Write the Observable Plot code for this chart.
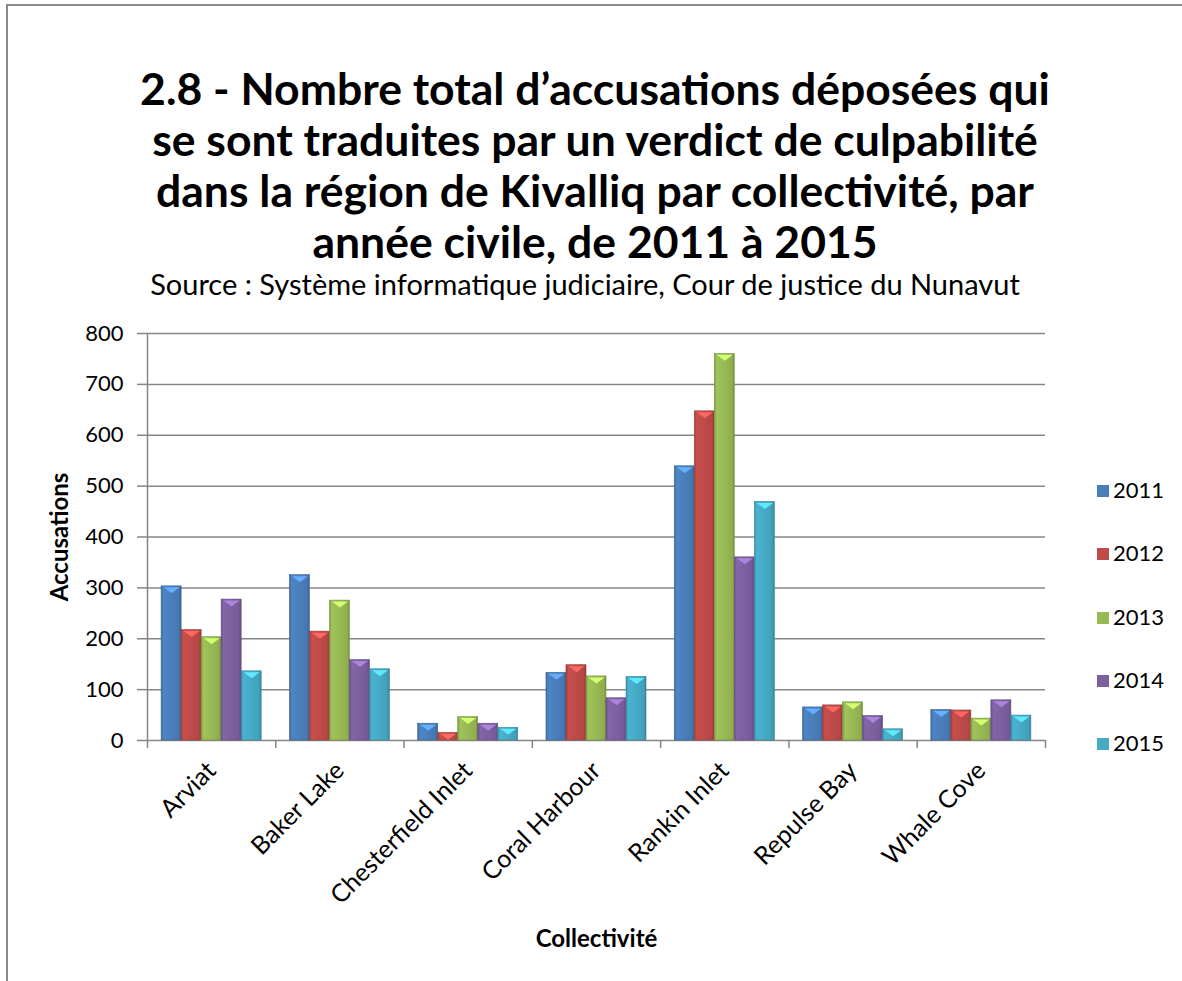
<!DOCTYPE html>
<html>
<head>
<meta charset="utf-8">
<script src="https://cdn.jsdelivr.net/npm/d3@7"></script>
<script src="https://cdn.jsdelivr.net/npm/@observablehq/plot@0.6"></script>
<style>
  html, body { margin: 0; padding: 0; background: #fff; }
  #wrap { position: relative; width: 1182px; height: 981px; overflow: hidden; background: #fff; font-family: Lato, "Open Sans", sans-serif; }
  #frame { position: absolute; left: 6px; top: 4px; width: 1300px; height: 1300px; border-left: 2px solid #8a8a8a; border-top: 2px solid #8a8a8a; }
  #title { position: absolute; left: 0; top: 62px; width: 1190px; text-align: center; font-weight: bold; font-size: 44.5px; line-height: 51px; color: #000; }
  #subtitle { position: absolute; left: 0; top: 266px; width: 1170px; text-align: center; font-size: 29px; color: #000; }
  #chart { position: absolute; left: 0; top: 300px; }
  #legend { position: absolute; left: 1097px; top: 476px; font-size: 22px; color: #000; }
  .lg-row { height: 63.3px; display: flex; align-items: flex-start; }
  .lg-sw { width: 12px; height: 12px; margin-top: 9px; margin-right: 4px; }
</style>
</head>
<body>
<div id="wrap">
  <div id="frame"></div>
  <div id="title"></div>
  <div id="subtitle"></div>
  <div id="chart"></div>
  <div id="legend"></div>
</div>
<script>
// ---- Data ----
const titleLines = [
  "2.8 - Nombre total d’accusations déposées qui",
  "se sont traduites par un verdict de culpabilité",
  "dans la région de Kivalliq par collectivité, par",
  "année civile, de 2011 à 2015"
];
const subtitleText = "Source : Système informatique judiciaire, Cour de justice du Nunavut";
const yLabel = "Accusations";
const xLabel = "Collectivité";

const communities = ["Arviat", "Baker Lake", "Chesterfield Inlet", "Coral Harbour", "Rankin Inlet", "Repulse Bay", "Whale Cove"];
const years = ["2011", "2012", "2013", "2014", "2015"];
const v2011 = [303, 325, 33, 133, 539, 65, 60];
const v2012 = [217, 214, 15, 148, 647, 69, 59];
const v2013 = [203, 275, 46, 126, 760, 75, 43];
const v2014 = [277, 158, 33, 83, 360, 48, 79];
const v2015 = [136, 140, 25, 125, 469, 22, 49];
const yTicks = [0, 100, 200, 300, 400, 500, 600, 700, 800];
const colors = ["#4A7EBB", "#BE4B48", "#98B954", "#7D60A0", "#46AAC5"];

const seriesValues = [v2011, v2012, v2013, v2014, v2015];

// ---- Title / subtitle ----
document.getElementById("title").innerHTML = titleLines.map(l => `<div>${l}</div>`).join("");
document.getElementById("subtitle").textContent = subtitleText;

// ---- Table ----
const groupPad = 0.11;
const barW = (1 - 2 * groupPad) / years.length;
const rows = [];
communities.forEach((c, ci) => {
  years.forEach((yr, yi) => {
    const x1 = ci + groupPad + yi * barW;
    rows.push({community: c, year: yr, yi, value: seriesValues[yi][ci], x1, x2: x1 + barW});
  });
});

const boundaries = d3.range(communities.length + 1);
const centers = communities.map((c, i) => i + 0.5);

// flat downward "V" bevel symbol for bar tops
const bevelSymbol = {
  draw(context, size) {
    const r = Math.sqrt(size / Math.PI);
    context.moveTo(-r, 0);
    context.lineTo(r, 0);
    context.lineTo(0, 0.75 * r);
    context.closePath();
  }
};

const barMarks = [];
years.forEach((yr, yi) => {
  const data = rows.filter(r => r.year === yr);
  barMarks.push(Plot.rect(data, {
    x1: "x1", x2: "x2", y1: () => 0, y2: "value",
    fill: `url(#grad${yr})`, stroke: d3.color(colors[yi]).darker(0.6).formatHex(), strokeWidth: 0.6
  }));
  barMarks.push(Plot.dot(data, {
    x: d => (d.x1 + d.x2) / 2, y: "value", symbol: bevelSymbol, r: 8, dy: 1,
    fill: d3.color(colors[yi]).brighter(0.9).formatHex(), stroke: "none"
  }));
});

const chart = Plot.plot({
  width: 1182,
  height: 670,
  marginLeft: 147,
  marginRight: 137,
  marginTop: 33,
  marginBottom: 230,
  x: {domain: [0, communities.length], axis: null},
  y: {domain: [0, 800], axis: null},
  style: {fontFamily: "Lato, 'Open Sans', sans-serif", fontSize: "20px", color: "#000", background: "transparent", overflow: "visible"},
  marks: [
    Plot.ruleY(yTicks, {stroke: "#868686", strokeWidth: 1.5}),
    Plot.ruleX([0], {stroke: "#868686", strokeWidth: 1.5}),
    Plot.axisY({ticks: yTicks, tickSize: 10, tickPadding: 14, tickFormat: d => String(d), label: null, stroke: "#868686", strokeWidth: 1.5, fontSize: 22}),
    Plot.axisX({ticks: boundaries, tickSize: 8, tickFormat: () => "", label: null, stroke: "#868686", strokeWidth: 1.5}),
    Plot.axisX({ticks: centers, tickSize: 0, tickPadding: 26, tickRotate: -45, tickFormat: d => communities[Math.floor(d)], label: null, fontSize: 25}),
    ...barMarks,
    Plot.text([yLabel], {frameAnchor: "left", rotate: -90, dx: -87, textAnchor: "middle", fontWeight: "bold", fontSize: 24}),
    Plot.text([xLabel], {frameAnchor: "bottom", dy: 206, textAnchor: "middle", fontWeight: "bold", fontSize: 24})
  ]
});

// gradients for the bevelled bar look
const svg = d3.select(chart);
const defs = svg.insert("defs", ":first-child");
years.forEach((yr, yi) => {
  const base = d3.color(colors[yi]);
  const g = defs.append("linearGradient").attr("id", `grad${yr}`).attr("x1", "0").attr("x2", "1").attr("y1", "0").attr("y2", "0");
  const stops = [
    [0, base.darker(0.5)],
    [0.12, base.brighter(0.15)],
    [0.5, base],
    [0.88, base.darker(0.15)],
    [1, base.darker(0.7)]
  ];
  stops.forEach(([o, c]) => g.append("stop").attr("offset", o).attr("stop-color", c.formatHex()));
});

document.getElementById("chart").appendChild(chart);

// ---- Legend ----
const legend = document.getElementById("legend");
years.forEach((yr, yi) => {
  const row = document.createElement("div");
  row.className = "lg-row";
  row.innerHTML = `<div class="lg-sw" style="background:${colors[yi]}"></div><div>${yr}</div>`;
  legend.appendChild(row);
});
</script>
</body>
</html>
